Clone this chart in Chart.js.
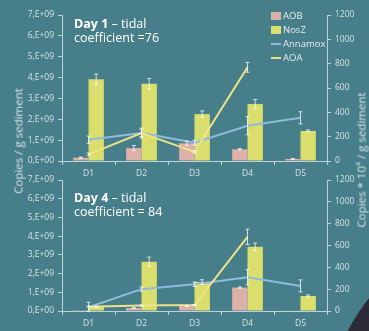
<!DOCTYPE html>
<html><head><meta charset="utf-8">
<script src="https://cdn.jsdelivr.net/npm/chart.js@4/dist/chart.umd.min.js"></script>
<style>
html,body{margin:0;padding:0;background:#467e89;width:369px;height:331px;overflow:hidden;font-family:'Open Sans',sans-serif}
.pan{position:absolute;left:0;width:369px}
#p1{top:0;height:180px}#p2{top:165px;height:166px}
.ttl{position:absolute;left:74px;color:#fff;font:12.5px 'Open Sans',sans-serif;line-height:14px}
.ttl b{font-weight:700}
.ax{position:absolute;color:#dbe6e9;font:11.5px 'Open Sans',sans-serif;white-space:nowrap;transform:translate(-50%,-50%) rotate(-90deg)}
#lg{position:absolute;left:271px;top:9px;color:#e6eef0;font:9.5px 'Open Sans',sans-serif}
#lg div{height:14px;line-height:14px;display:flex;align-items:center}
#lg span{display:inline-block;width:10px;margin-right:2px}
.blob{position:absolute;left:326px;top:226px;width:388px;height:388px;border-radius:50%;background:#2e2b38}
</style></head><body>
<div class="blob"></div>
<div class="pan" id="p1"><canvas id="c1"></canvas></div>
<div class="pan" id="p2"><canvas id="c2"></canvas></div>
<div class="ttl" style="top:17px"><b>Day 1</b> – tidal<br>coefficient =76</div>
<div class="ttl" style="top:191px"><b>Day 4</b> – tidal<br>coefficient = 84</div>
<div class="ax" style="left:18px;top:141px">Copies / g sediment</div>
<div class="ax" style="left:361px;top:160px">Copies * 10<sup style="font-size:7px">4</sup> / g sediment</div>
<div id="lg"></div>
<script>
'use strict';
/* ═══════════ DATA ═══════════ */
var days=['D1','D2','D3','D4','D5'];
var leftTicks=['0,E+00','1,E+09','2,E+09','3,E+09','4,E+09','5,E+09','6,E+09','7,E+09'];
var rightTicks=['0','200','400','600','800','1000','1200'];
// day 1
var aob1=[0.16e9,0.62e9,0.85e9,0.56e9,0.1e9], aob1Err=[0.03e9,0.12e9,0.1e9,0.04e9,0.02e9];
var nos1=[3.92e9,3.7e9,2.25e9,2.73e9,1.44e9], nos1Err=[0.25e9,0.25e9,0.15e9,0.22e9,0.05e9];
var ana1=[175,230,150,290,355], ana1Err=[30,40,20,75,50];
var aoa1=[55,230,75,770,null], aoa1Err=[10,30,10,40,0];
// day 4
var aob4=[0.01e9,0.16e9,0.27e9,1.25e9,0.02e9], aob4Err=[0,0.02e9,0.03e9,0.03e9,0];
var nos4=[0.23e9,2.63e9,1.55e9,3.43e9,0.8e9], nos4Err=[0.02e9,0.25e9,0.12e9,0.2e9,0.06e9];
var ana4=[35,200,245,310,230], ana4Err=[45,20,20,70,55];
var aoa4=[40,50,55,680,null], aoa4Err=[5,5,5,70,0];

var C={aob:'#dcb1a9',nos:'#d9de6c',ana:'#8fbcdc',aoa:'#efe38a',tick:'#d6e2e5',axis:'#bcd2d8'};

/* ═══════════ ERROR BARS ═══════════ */
var errPlug={id:'err',afterDatasetsDraw:function(ch){var ctx=ch.ctx;
  ch.data.datasets.forEach(function(ds,i){if(!ds.err)return;var m=ch.getDatasetMeta(i),ys=ch.scales[ds.yAxisID];
    m.data.forEach(function(el,j){var v=ds.data[j],e=ds.err[j];if(v==null||!e)return;
      var x=el.x,a=ys.getPixelForValue(v+e),b=ys.getPixelForValue(Math.max(0,v-e));
      ctx.save();ctx.strokeStyle='rgba(255,255,255,0.75)';ctx.lineWidth=1;ctx.beginPath();
      ctx.moveTo(x,a);ctx.lineTo(x,b);ctx.moveTo(x-2,a);ctx.lineTo(x+2,a);ctx.moveTo(x-2,b);ctx.lineTo(x+2,b);ctx.stroke();ctx.restore()})})}};

function mk(id,aob,aobE,nos,nosE,ana,anaE,aoa,aoaE,h){
  var tk={color:C.tick,font:{family:'Open Sans',size:8.5}};
  return new Chart(document.getElementById(id),{
    data:{labels:days,datasets:[
      {type:'bar',label:'AOB',data:aob,err:aobE,backgroundColor:C.aob,yAxisID:'y',order:2},
      {type:'bar',label:'NosZ',data:nos,err:nosE,backgroundColor:C.nos,yAxisID:'y',order:2},
      {type:'line',label:'Annamox',data:ana,err:anaE,borderColor:C.ana,borderWidth:2,pointRadius:0,yAxisID:'y2',order:1},
      {type:'line',label:'AOA',data:aoa,err:aoaE,borderColor:C.aoa,borderWidth:2,pointRadius:0,yAxisID:'y2',order:0}]},
    options:{responsive:true,maintainAspectRatio:false,animation:false,
      layout:{padding:{top:15,bottom:0,left:0,right:0}},
      datasets:{bar:{categoryPercentage:0.58,barPercentage:1}},
      plugins:{legend:{display:false},tooltip:{enabled:false}},
      scales:{
        x:{grid:{display:true,drawOnChartArea:false,color:C.axis,tickLength:4,offset:true},border:{color:C.axis},
          ticks:Object.assign({padding:3},tk),afterFit:function(s){s.height=h}},
        y:{position:'left',min:0,max:7e9,grid:{drawOnChartArea:false,color:C.axis,tickLength:4},border:{color:C.axis},
          ticks:Object.assign({stepSize:1e9,padding:4,callback:function(v){return leftTicks[Math.round(v/1e9)]}},tk),
          afterFit:function(s){s.width=62}},
        y2:{position:'right',min:0,max:1200,grid:{drawOnChartArea:false,color:C.axis,tickLength:4},border:{color:C.axis},
          ticks:Object.assign({stepSize:200,padding:4,callback:function(v){return rightTicks[Math.round(v/200)]}},tk),
          afterFit:function(s){s.width=42}}}},
    plugins:[errPlug]})}

var ch1=mk('c1',aob1,aob1Err,nos1,nos1Err,ana1,ana1Err,aoa1,aoa1Err,19);
mk('c2',aob4,aob4Err,nos4,nos4Err,ana4,ana4Err,aoa4,aoa4Err,20);

/* legend */
var lg='';ch1.data.datasets.forEach(function(d){
  var sw=d.type==='bar'?'<span style="height:8px;background:'+d.backgroundColor+'"></span>':'<span style="height:2px;background:'+d.borderColor+'"></span>';
  lg+='<div>'+sw+d.label+'</div>'});
document.getElementById('lg').innerHTML=lg;
</script></body></html>
